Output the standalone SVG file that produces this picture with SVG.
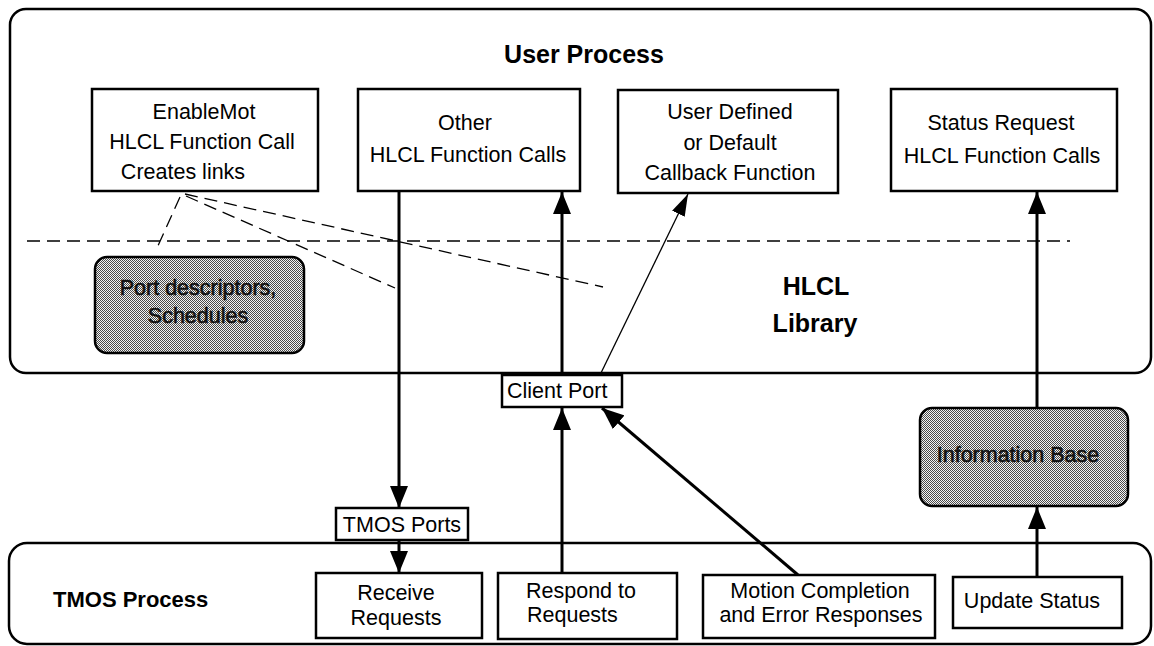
<svg xmlns="http://www.w3.org/2000/svg" width="1154" height="646" viewBox="0 0 1154 646">
<style>
text{font-family:"Liberation Sans",Arial,Helvetica,sans-serif;fill:#000}
.t{font-size:21.5px;text-anchor:middle}
.ts{font-size:21.5px}
.b{font-weight:bold;text-anchor:middle}
.box{fill:#fff;stroke:#000;stroke-width:2.5}
.proc{fill:none;stroke:#000;stroke-width:2.5}
.shade{fill:url(#dots);stroke:#000;stroke-width:2.5}
.st{font-size:21.5px;text-anchor:middle;fill:#111;stroke:#111;stroke-width:0.6}
.dash{fill:none;stroke:#000;stroke-width:1.3;stroke-dasharray:13,7}
.thick{fill:none;stroke:#000;stroke-width:3}
.thin{fill:none;stroke:#000;stroke-width:1.3}
</style>
<defs>
<pattern id="dots" width="2" height="2" patternUnits="userSpaceOnUse">
<rect width="2" height="2" fill="#f4f4f4"/>
<rect width="1" height="1" fill="#4a4a4a"/>
<rect x="1" y="1" width="1" height="1" fill="#4a4a4a"/>
</pattern>
<marker id="ah" markerUnits="userSpaceOnUse" markerWidth="24" markerHeight="18" refX="22" refY="9" orient="auto">
<path d="M0,0 L22,9 L0,18 Z" fill="#000"/>
</marker>
<marker id="ahs" markerUnits="userSpaceOnUse" markerWidth="24" markerHeight="14" refX="22" refY="7" orient="auto">
<path d="M0,0 L22,7 L0,14 Z" fill="#000"/>
</marker>
</defs>

<g id="user-process">
<rect class="proc" x="10" y="9" width="1141" height="364" rx="16"/>
<text class="b" x="584" y="63" font-size="25">User Process</text>
</g>

<g id="tmos-process">
<rect class="proc" x="9" y="543" width="1142" height="101" rx="18"/>
<text x="53" y="607" font-size="22" font-weight="bold">TMOS Process</text>
</g>

<g id="hlcl-library">
<text class="b" x="816" y="295" font-size="25">HLCL</text>
<text class="b" x="815" y="332" font-size="25">Library</text>
</g>

<g id="connectors">
<line class="dash" x1="27" y1="241" x2="1070" y2="241"/>
<line class="dash" x1="180" y1="197" x2="157" y2="248"/>
<line class="dash" x1="185" y1="194" x2="603" y2="287"/>
<line class="dash" x1="186" y1="196" x2="395" y2="288"/>
<line class="thick" x1="399" y1="191" x2="399" y2="508" marker-end="url(#ah)"/>
<line class="thick" x1="562" y1="375" x2="562" y2="192" marker-end="url(#ah)"/>
<line class="thin" x1="600" y1="375" x2="688" y2="194" marker-end="url(#ahs)"/>
<line class="thick" x1="399" y1="540" x2="399" y2="573" marker-end="url(#ah)"/>
<line class="thick" x1="562" y1="573" x2="562" y2="408" stroke-width="2.5" marker-end="url(#ah)"/>
<line class="thick" x1="798" y1="575" x2="602" y2="408" stroke-width="3.5" marker-end="url(#ah)"/>
<line class="thick" x1="1037" y1="577" x2="1037" y2="507" stroke-width="2.5" marker-end="url(#ah)"/>
<line class="thick" x1="1037" y1="408" x2="1037" y2="192" stroke-width="2.5" marker-end="url(#ah)"/>
</g>

<g id="enablemot">
<rect class="box" x="92" y="89" width="226" height="102"/>
<text class="t" x="204" y="119">EnableMot</text>
<text class="t" x="202" y="149">HLCL Function Call</text>
<text class="t" x="183" y="179">Creates links</text>
</g>

<g id="other-calls">
<rect class="box" x="358" y="89" width="222" height="102"/>
<text class="t" x="465" y="130">Other</text>
<text class="t" x="468" y="162">HLCL Function Calls</text>
</g>

<g id="callback">
<rect class="box" x="618" y="90" width="220" height="103"/>
<text class="t" x="730" y="119">User Defined</text>
<text class="t" x="730" y="150">or Default</text>
<text class="t" x="730" y="180">Callback Function</text>
</g>

<g id="status-request">
<rect class="box" x="891" y="89" width="226" height="102"/>
<text class="t" x="1001" y="130">Status Request</text>
<text class="t" x="1002" y="163">HLCL Function Calls</text>
</g>

<g id="port-descriptors">
<rect class="shade" x="95" y="257" width="209" height="96" rx="12"/>
<text class="st" x="198" y="295">Port descriptors,</text>
<text class="st" x="198" y="323">Schedules</text>
</g>

<g id="client-port">
<rect class="box" x="502" y="375" width="120" height="32"/>
<text class="ts" x="507" y="398">Client Port</text>
</g>

<g id="tmos-ports">
<rect class="box" x="336" y="508" width="132" height="32"/>
<text class="t" x="402" y="532">TMOS Ports</text>
</g>

<g id="information-base">
<rect class="shade" x="920" y="408" width="208" height="98" rx="12"/>
<text class="st" x="1018" y="462">Information Base</text>
</g>

<g id="receive-requests">
<rect class="box" x="316" y="573" width="166" height="65"/>
<text class="t" x="396" y="600">Receive</text>
<text class="t" x="396" y="625">Requests</text>
</g>

<g id="respond-requests">
<rect class="box" x="498" y="573" width="179" height="66"/>
<text class="ts" x="526" y="598">Respond to</text>
<text class="ts" x="527" y="622">Requests</text>
</g>

<g id="motion-completion">
<rect class="box" x="703" y="575" width="232" height="63"/>
<text class="t" x="820" y="598">Motion Completion</text>
<text class="t" x="821" y="622">and Error Responses</text>
</g>

<g id="update-status">
<rect class="box" x="953" y="577" width="169" height="51"/>
<text class="t" x="1032" y="608">Update Status</text>
</g>
</svg>
